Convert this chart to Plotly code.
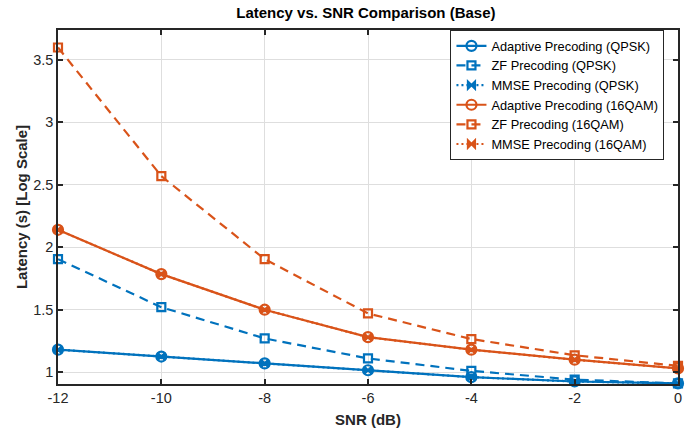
import plotly.graph_objects as go

snr = [-12, -10, -8, -6, -4, -2, 0]
adaptive_qpsk = [1.18, 1.125, 1.07, 1.015, 0.96, 0.925, 0.91]
zf_qpsk = [1.905, 1.52, 1.27, 1.11, 1.01, 0.94, 0.91]
mmse_qpsk = [1.18, 1.125, 1.07, 1.015, 0.96, 0.925, 0.91]
adaptive_16qam = [2.14, 1.785, 1.50, 1.28, 1.18, 1.10, 1.03]
zf_16qam = [3.60, 2.57, 1.905, 1.47, 1.265, 1.135, 1.05]
mmse_16qam = [2.14, 1.785, 1.50, 1.28, 1.18, 1.10, 1.03]

BLUE = "#0072BD"
ORANGE = "#D95319"
FONT = "Liberation Sans, Arial"

series = [
    ("Adaptive Precoding (QPSK)", adaptive_qpsk, BLUE, "solid", "circle-open", 10),
    ("ZF Precoding (QPSK)", zf_qpsk, BLUE, "9px,6px", "square-open", 8),
    ("MMSE Precoding (QPSK)", mmse_qpsk, BLUE, "2px,3px", "bowtie", 7),
    ("Adaptive Precoding (16QAM)", adaptive_16qam, ORANGE, "solid", "circle-open", 10),
    ("ZF Precoding (16QAM)", zf_16qam, ORANGE, "9px,6px", "square-open", 8),
    ("MMSE Precoding (16QAM)", mmse_16qam, ORANGE, "2px,3px", "bowtie", 7),
]

fig = go.Figure()
for name, vals, col, dash, sym, size in series:
    fig.add_trace(go.Scatter(
        x=snr, y=vals, name=name, mode="lines+markers",
        line=dict(color=col, width=2.2, dash=dash),
        marker=dict(symbol=sym, size=size, color=col,
                    line=dict(color=col, width=2.2)),
        cliponaxis=False,
    ))

axis_common = dict(
    showline=True, linecolor="#262626", linewidth=1.5, mirror="allticks",
    ticks="inside", ticklen=5, tickcolor="#262626", tickwidth=1.5,
    showgrid=True, gridcolor="#dedede", gridwidth=1, zeroline=False,
    automargin=False,
    tickfont=dict(family=FONT, size=14.5, color="#262626"),
)

fig.update_layout(
    width=693, height=432,
    paper_bgcolor="white", plot_bgcolor="white",
    margin=dict(l=58, r=15, t=30, b=48),
    title=dict(text="<b>Latency vs. SNR Comparison (Base)</b>", x=0.528, xanchor="center",
               y=0.982, yanchor="top",
               font=dict(family=FONT, size=15, color="black")),
    xaxis=dict(range=[-12, 0], tickvals=snr, ticktext=[str(v) for v in snr],
               title=dict(text="<b>SNR (dB)</b>", standoff=9,
                          font=dict(family=FONT, size=15, color="#262626")),
               **axis_common),
    yaxis=dict(range=[0.905, 3.74], tickvals=[1, 1.5, 2, 2.5, 3, 3.5],
               ticktext=["1", "1.5", "2", "2.5", "3", "3.5"],
               title=dict(text="<b>Latency (s) [Log Scale]</b>", standoff=2,
                          font=dict(family=FONT, size=15, color="#262626")),
               **axis_common),
    legend=dict(x=0.633, y=1.0, xanchor="left", yanchor="top",
                bgcolor="white", bordercolor="#262626", borderwidth=1,
                font=dict(family=FONT, size=12.8, color="black"),
                tracegroupgap=0, itemwidth=30),
    showlegend=True,
)

fig.write_html("out.html", config={"displayModeBar": False},
               post_script="document.body.style.margin='0px';")
